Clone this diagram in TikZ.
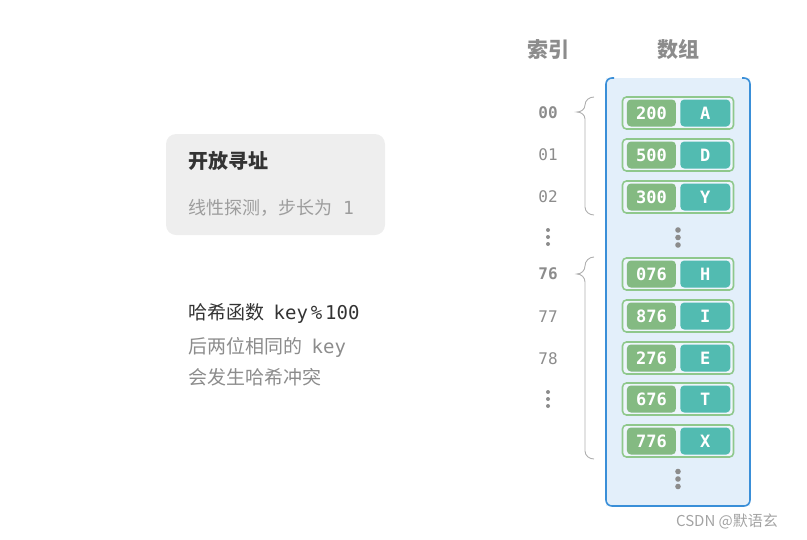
\documentclass[tikz,border=0pt]{standalone}
\usepackage{fontspec}
\setmainfont{Noto Sans CJK SC}
\newfontfamily\monofont{DejaVu Sans Mono}
\usetikzlibrary{positioning}
\usepackage{xcolor}
\definecolor{keygreen}{HTML}{84BA82}
\definecolor{valteal}{HTML}{52BBB1}
\definecolor{slotedge}{HTML}{8FC88C}
\definecolor{arrayfill}{HTML}{E3EFFA}
\definecolor{arrayedge}{HTML}{3A8FD8}
\definecolor{textgray}{HTML}{8C8C8C}
\definecolor{textdark}{HTML}{333333}
\definecolor{boxgray}{HTML}{EEEEEE}

\begin{document}
\begin{tikzpicture}[
		x=1pt, y=-1pt,
		% Style definitions
		slot/.style={draw=slotedge, line width=1.6pt, fill=arrayfill!60!white, rounded corners=4pt, minimum width=111pt, minimum height=32pt, inner sep=0pt},
		keycell/.style={fill=keygreen, rounded corners=4pt, minimum width=49pt, minimum height=27pt, inner sep=0pt, text=white, font=\monofont\bfseries\fontsize{17}{19}\selectfont},
		valcell/.style={fill=valteal, rounded corners=4pt, minimum width=50pt, minimum height=27pt, inner sep=0pt, text=white, font=\monofont\bfseries\fontsize{17}{19}\selectfont},
		idxlabel/.style={text=textgray, font=\monofont\fontsize{16}{18}\selectfont},
		header/.style={text=textgray, font=\bfseries\fontsize{21}{24}\selectfont},
		note/.style={anchor=west, inner sep=0pt, font=\fontsize{19}{22}\selectfont},
		brace/.style={draw=textgray!70, line width=0.9pt},
		dot/.style={fill=textgray},
		node distance=4pt,
		]
		\useasboundingbox (0,0) rectangle (807,539);

		% === Left: description ===
		\node[fill=boxgray, rounded corners=10pt, minimum width=219pt, minimum height=101pt] (probe) at (275.5,184.5) {};
		\node[note, text=textdark, font=\bfseries\fontsize{20}{24}\selectfont] (probetitle) at (188,161) {开放寻址};
		\node[note, text=textgray!85, font=\fontsize{18}{22}\selectfont] (probestep) at (188,208) {线性探测，步长为\hspace{0.6em}{\monofont 1}};

		\node[note, text=textdark] (hashfn) at (188,313) {哈希函数\hspace{0.5em}{\monofont key\hspace{0.15em}\%\hspace{0.15em}100}};
		\node[note, text=textgray] (clash1) at (188,347) {后两位相同的\hspace{0.5em}{\monofont key}};
		\node[note, text=textgray] (clash2) at (188,377) {会发生哈希冲突};

		% === Column headers ===
		\node[header] (idxhead) at (548,50) {索引};
		\node[header] (arrhead) at (678,50) {数组};

		% === Array container (top edge left open) ===
		\fill[arrayfill] (606,78) rectangle (750,506);
		\draw[arrayedge, line width=1.6pt, rounded corners=6pt] (614,78) -- (606,78) -- (606,506) -- (750,506) -- (750,78) -- (742,78);

		% === Index labels ===
		\node[idxlabel, font=\monofont\bfseries\fontsize{16}{18}\selectfont] (i00) at (548,113) {00};
		\node[idxlabel] (i01) at (548,155) {01};
		\node[idxlabel] (i02) at (548,197) {02};
		\node[idxlabel, font=\monofont\bfseries\fontsize{16}{18}\selectfont] (i76) at (548,274) {76};
		\node[idxlabel] (i77) at (548,317) {77};
		\node[idxlabel] (i78) at (548,359) {78};

		% === Slots ===
		\node[slot] (s00) at (678,113) {};
		\node[keycell, right=5pt of s00.west] (k00) {200};
		\node[valcell, right=of k00] (v00) {A};

		\node[slot] (s01) at (678,155) {};
		\node[keycell, right=5pt of s01.west] (k01) {500};
		\node[valcell, right=of k01] (v01) {D};

		\node[slot] (s02) at (678,197) {};
		\node[keycell, right=5pt of s02.west] (k02) {300};
		\node[valcell, right=of k02] (v02) {Y};

		\node[slot] (s76) at (678,274) {};
		\node[keycell, right=5pt of s76.west] (k76) {076};
		\node[valcell, right=of k76] (v76) {H};

		\node[slot] (s77) at (678,316) {};
		\node[keycell, right=5pt of s77.west] (k77) {876};
		\node[valcell, right=of k77] (v77) {I};

		\node[slot] (s78) at (678,358) {};
		\node[keycell, right=5pt of s78.west] (k78) {276};
		\node[valcell, right=of k78] (v78) {E};

		\node[slot] (s79) at (678,399) {};
		\node[keycell, right=5pt of s79.west] (k79) {676};
		\node[valcell, right=of k79] (v79) {T};

		\node[slot] (s80) at (678,441) {};
		\node[keycell, right=5pt of s80.west] (k80) {776};
		\node[valcell, right=of k80] (v80) {X};

		% === Ellipsis dots ===
		\fill[dot] (548,230) circle (2) (548,237) circle (2) (548,244) circle (2);
		\fill[dot] (548,392) circle (2) (548,399) circle (2) (548,406) circle (2);
		\fill[dot] (678,230) circle (2.8) (678,237.5) circle (2.8) (678,245) circle (2.8);
		\fill[dot] (678,471.5) circle (2.8) (678,479) circle (2.8) (678,486.5) circle (2.8);

		% === Braces (tip at the home index) ===
		\draw[brace] (594,97) to[out=180, in=90] (585,105) to[out=270, in=0] (577,112) to[out=0, in=90] (585,119) -- (585,207) to[out=270, in=180] (594,215);
		\draw[brace] (594,257) to[out=180, in=90] (585,266) to[out=270, in=0] (577,274) to[out=0, in=90] (585,282) -- (585,451) to[out=270, in=180] (594,459);

		% Watermark
		\node[text=textgray!80, font=\fontsize{15}{18}\selectfont] (mark) at (727,521) {CSDN @默语玄};

	\end{tikzpicture}
\end{document}
